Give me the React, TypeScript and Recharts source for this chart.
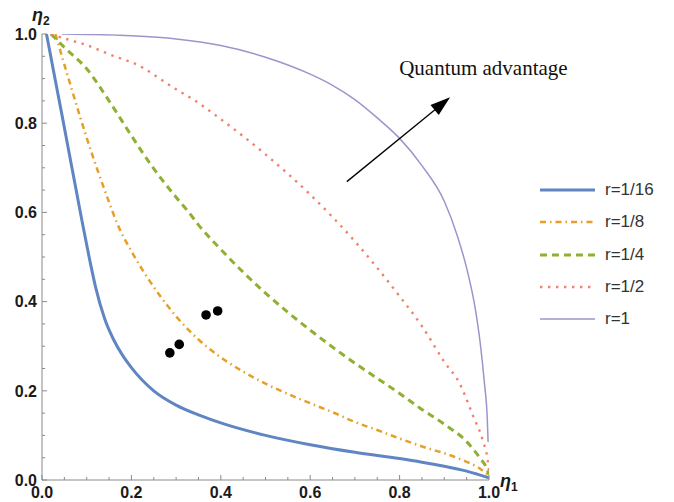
import React from 'react';
import { ComposedChart, Line, Scatter, XAxis, YAxis, ReferenceLine, ReferenceDot } from 'recharts';

// r = 1/16
const r16X = [0.01, 0.02, 0.03, 0.044, 0.06, 0.07, 0.08, 0.092, 0.107, 0.12, 0.14, 0.16, 0.18, 0.2, 0.25, 0.3, 0.35, 0.4, 0.5, 0.6, 0.7, 0.8, 0.85, 0.9, 0.95, 1.0];
const r16Y = [1.0, 0.948, 0.895, 0.822, 0.737, 0.684, 0.631, 0.568, 0.492, 0.432, 0.362, 0.315, 0.28, 0.252, 0.2, 0.168, 0.146, 0.128, 0.1, 0.079, 0.062, 0.048, 0.04, 0.031, 0.02, 0.005];
// r = 1/8
const r8X = [0.03, 0.044, 0.06, 0.085, 0.1, 0.126, 0.15, 0.167, 0.204, 0.235, 0.264, 0.3, 0.35, 0.4, 0.45, 0.5, 0.55, 0.6, 0.65, 0.7, 0.75, 0.8, 0.857, 0.9, 0.94, 0.976, 1.0];
const r8Y = [1.0, 0.952, 0.898, 0.815, 0.767, 0.69, 0.623, 0.578, 0.506, 0.455, 0.413, 0.367, 0.315, 0.275, 0.243, 0.216, 0.193, 0.172, 0.152, 0.13, 0.112, 0.093, 0.073, 0.06, 0.045, 0.028, 0.01];
// r = 1/4
const r4X = [0.02, 0.05, 0.1, 0.15, 0.2, 0.25, 0.3, 0.327, 0.35, 0.4, 0.45, 0.5, 0.55, 0.6, 0.65, 0.7, 0.75, 0.8, 0.846, 0.9, 0.95, 0.98, 0.995, 1.0];
const r4Y = [1.0, 0.97, 0.922, 0.85, 0.772, 0.698, 0.634, 0.602, 0.572, 0.517, 0.466, 0.419, 0.376, 0.336, 0.298, 0.262, 0.228, 0.194, 0.161, 0.125, 0.086, 0.049, 0.026, 0.012];
// r = 1/2
const r2X = [0.02, 0.05, 0.1, 0.17, 0.2, 0.3, 0.34, 0.4, 0.5, 0.6, 0.7, 0.8, 0.85, 0.9, 0.934, 0.965, 0.987, 0.997, 1.0];
const r2Y = [1.0, 0.99, 0.975, 0.947, 0.937, 0.876, 0.852, 0.809, 0.73, 0.64, 0.535, 0.412, 0.345, 0.265, 0.217, 0.142, 0.086, 0.045, 0.02];
// r = 1
const r1X = [0.045, 0.1, 0.2, 0.3, 0.4, 0.5, 0.6, 0.65, 0.7, 0.75, 0.8, 0.85, 0.9, 0.93, 0.95, 0.97, 0.98, 0.99, 0.996, 0.998];
const r1Y = [1.0, 0.999, 0.996, 0.989, 0.974, 0.948, 0.91, 0.885, 0.853, 0.812, 0.766, 0.705, 0.625, 0.545, 0.475, 0.38, 0.31, 0.215, 0.14, 0.085];

// experimental points
const dotX = [0.286, 0.307, 0.367, 0.393];
const dotY = [0.285, 0.304, 0.37, 0.379];

// tick values
const ticks = [0, 0.05, 0.1, 0.15, 0.2, 0.25, 0.3, 0.35, 0.4, 0.45, 0.5, 0.55, 0.6, 0.65, 0.7, 0.75, 0.8, 0.85, 0.9, 0.95, 1.0];
const majorTicks = [0, 0.2, 0.4, 0.6, 0.8, 1.0];
const tickLabels = ['0.0', '0.2', '0.4', '0.6', '0.8', '1.0'];

const legendNames = ['r=1/16', 'r=1/8', 'r=1/4', 'r=1/2', 'r=1'];

const zip = (xs: number[], ys: number[]) => xs.map((x, i) => ({ x, y: ys[i] }));

const series = [
  { name: legendNames[0], data: zip(r16X, r16Y), stroke: '#5f86c2', width: 3, dash: undefined as string | undefined, cap: 'butt' },
  { name: legendNames[1], data: zip(r8X, r8Y), stroke: '#e4a02a', width: 2.5, dash: '6 4 1.5 4', cap: 'butt' },
  { name: legendNames[2], data: zip(r4X, r4Y), stroke: '#8fb032', width: 3, dash: '7 5', cap: 'butt' },
  { name: legendNames[3], data: zip(r2X, r2Y), stroke: '#f0806c', width: 2.4, dash: '2.4 5.6', cap: 'butt' },
  { name: legendNames[4], data: zip(r1X, r1Y), stroke: '#9b95cc', width: 1.5, dash: undefined, cap: 'butt' },
];

const dots = zip(dotX, dotY);

const AXIS = '#8a8a8a';
const LABEL = '#1a1a1a';
const FONT = '"Liberation Sans", Arial, sans-serif';

const labelFor = (v: number) => {
  const idx = majorTicks.findIndex((m) => Math.abs(m - v) < 1e-6);
  return idx >= 0 ? tickLabels[idx] : null;
};

const XTick = (props: any) => {
  const { x, y, payload } = props;
  const lab = labelFor(payload.value);
  const len = lab ? 5 : 3;
  return (
    <g>
      <line x1={x} y1={y} x2={x} y2={y - len} stroke={AXIS} strokeWidth={1} />
      {lab && (
        <text x={x} y={y + 18} textAnchor="middle" fontFamily={FONT} fontWeight="bold" fontSize={16} fill={LABEL}>
          {lab}
        </text>
      )}
    </g>
  );
};

const YTick = (props: any) => {
  const { x, y, payload } = props;
  const lab = labelFor(payload.value);
  const len = lab ? 5 : 3;
  return (
    <g>
      <line x1={x} y1={y} x2={x + len} y2={y} stroke={AXIS} strokeWidth={1} />
      {lab && (
        <text x={x - 5} y={y} dy="0.36em" textAnchor="end" fontFamily={FONT} fontWeight="bold" fontSize={16} fill={LABEL}>
          {lab}
        </text>
      )}
    </g>
  );
};

const XLabel = (props: any) => {
  const vb = props.viewBox || {};
  return (
    <text x={vb.x + vb.width + 11} y={vb.y + 7} fontFamily={FONT} fontWeight="bold" fontStyle="italic" fontSize={18} fill={LABEL}>
      η<tspan fontSize={12} dy={4} fontStyle="normal">1</tspan>
    </text>
  );
};

const YLabel = (props: any) => {
  const vb = props.viewBox || {};
  return (
    <text x={vb.x + vb.width - 10} y={vb.y - 13} fontFamily={FONT} fontWeight="bold" fontStyle="italic" fontSize={18} fill={LABEL}>
      η<tspan fontSize={12} dy={4} fontStyle="normal">2</tspan>
    </text>
  );
};

const ArrowShape = (props: any) => {
  const { x1, y1, x2, y2 } = props;
  const dx = x2 - x1;
  const dy = y2 - y1;
  const L = Math.sqrt(dx * dx + dy * dy) || 1;
  const ux = dx / L;
  const uy = dy / L;
  const head = 20;
  const hw = 6.5;
  const bx = x2 - ux * head;
  const by = y2 - uy * head;
  const px = -uy;
  const py = ux;
  return (
    <g>
      <line x1={x1} y1={y1} x2={bx + ux * 2} y2={by + uy * 2} stroke="#000" strokeWidth={1.3} />
      <polygon points={`${x2},${y2} ${bx + px * hw},${by + py * hw} ${bx - px * hw},${by - py * hw}`} fill="#000" />
    </g>
  );
};

const TextShape = (props: any) => (
  <text x={props.cx} y={props.cy} fontFamily='"Liberation Serif", "Times New Roman", serif' fontSize={21} fill="#111">
    Quantum advantage
  </text>
);

const DotShape = (props: any) => <circle cx={props.cx} cy={props.cy} r={4.8} fill="#000" />;

const LegendBox = () => (
  <div style={{ position: 'absolute', left: 537, top: 174, fontFamily: FONT, fontSize: 17, color: '#333' }}>
    {series.map((s) => (
      <div key={s.name} style={{ display: 'flex', alignItems: 'center', height: 32.3 }}>
        <svg width={62} height={12} style={{ display: 'block' }}>
          <line x1={3} y1={6} x2={58} y2={6} stroke={s.stroke} strokeWidth={s.width} strokeDasharray={s.dash} />
        </svg>
        <span style={{ marginLeft: 6 }}>{s.name}</span>
      </div>
    ))}
  </div>
);

export default function App() {
  return (
    <div style={{ position: 'absolute', left: 0, top: 0, width: 674, height: 502, background: '#fff' }}>
      <ComposedChart width={674} height={502} margin={{ top: 34, right: 185, bottom: 0, left: 0 }}>
        <XAxis
          dataKey="x"
          type="number"
          domain={[0, 1]}
          ticks={ticks}
          interval={0}
          height={22}
          tickSize={0}
          tickMargin={0}
          tickLine={false}
          axisLine={{ stroke: AXIS, strokeWidth: 1 }}
          tick={<XTick />}
          allowDataOverflow
          label={<XLabel />}
        />
        <YAxis
          type="number"
          domain={[0, 1]}
          ticks={ticks}
          interval={0}
          width={42}
          tickSize={0}
          tickMargin={0}
          tickLine={false}
          axisLine={{ stroke: AXIS, strokeWidth: 1 }}
          tick={<YTick />}
          allowDataOverflow
          label={<YLabel />}
        />
        {series.map((s) => (
          <Line
            key={s.name}
            data={s.data}
            dataKey="y"
            name={s.name}
            type="monotone"
            stroke={s.stroke}
            strokeWidth={s.width}
            strokeDasharray={s.dash}
            dot={false}
            activeDot={false}
            isAnimationActive={false}
          />
        ))}
        <Scatter data={dots} dataKey="y" shape={<DotShape />} isAnimationActive={false} />
        <ReferenceLine segment={[{ x: 0.682, y: 0.669 }, { x: 0.913, y: 0.858 }]} shape={<ArrowShape />} ifOverflow="visible" />
        <ReferenceDot x={0.799} y={0.908} r={0} shape={<TextShape />} ifOverflow="visible" />
      </ComposedChart>
      <LegendBox />
    </div>
  );
}
